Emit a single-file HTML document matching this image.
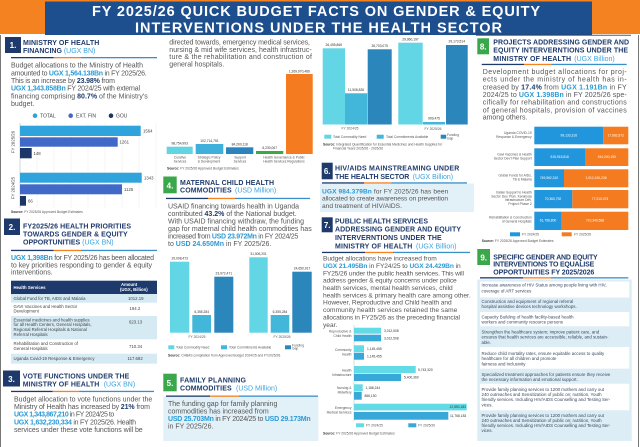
<!DOCTYPE html>
<html><head><meta charset="utf-8"><style>
html,body{margin:0;padding:0;background:#fff;width:640px;height:447px;overflow:hidden}
svg{display:block}
text{font-family:"Liberation Sans",sans-serif}
.h{font-size:7px;font-weight:bold;fill:#1e3a6c}
.u{font-weight:normal;fill:#3ba3dc}
.t{font-size:7px;fill:#555}
.t7{font-size:6.6px;fill:#555}
.k{font-weight:bold;fill:#2b9ad6}
.n{font-weight:bold;fill:#1e3a6c}
.s{font-size:3.3px;fill:#555}
.sb{font-weight:bold;fill:#333}
.num{font-size:8px;font-weight:bold;fill:#fff}
.tb{font-size:4.3px;fill:#444}
.tw{font-size:4.3px;fill:#fff;font-weight:bold}
.l{font-size:3.3px;fill:#333}
.lw{font-size:3.3px;fill:#fff}
.lg{font-size:5px;fill:#444}
.li{font-size:4.4px;fill:#3a4a60}
.ti{font-size:14.5px;font-weight:bold;fill:#fff}
</style></head><body>
<svg width="640" height="447" viewBox="0 0 640 447" xmlns="http://www.w3.org/2000/svg">
<defs>
<linearGradient id="ul" x1="0" x2="1" y1="0" y2="0">
<stop offset="0" stop-color="#1e3a6c"/><stop offset="0.29" stop-color="#1e3a6c"/>
<stop offset="0.29" stop-color="#f58220"/><stop offset="0.48" stop-color="#f58220"/>
<stop offset="0.48" stop-color="#3a8fc9"/><stop offset="1" stop-color="#3a8fc9"/>
</linearGradient>
</defs>
<rect width="640" height="447" fill="#fff"/>

<!-- HEADER -->
<rect x="0" y="0" width="640" height="1.5" fill="#f58220"/>
<rect x="0" y="0" width="45" height="34" fill="#f58220"/>
<rect x="45" y="1.5" width="547" height="33.5" fill="#1d4f8f"/>
<rect x="592" y="0" width="48" height="34" fill="#f58220"/>
<text class="ti" x="92" y="16" textLength="448">FY 2025/26 QUICK BUDGET FACTS ON GENDER &amp; EQUITY</text>
<text class="ti" x="135" y="32.3" textLength="367">INTERVENTIONS UNDER THE HEALTH SECTOR</text>

<rect x="0" y="35" width="1" height="412" fill="#777"/>
<rect x="638" y="35" width="1" height="412" fill="#777"/>
<rect x="476" y="34.8" width="155" height="0.8" fill="#333"/>

<!-- SECTION 1 -->
<rect x="5" y="37" width="16" height="16" fill="#1e3a6c"/>
<text class="num" x="13" y="48" text-anchor="middle">1.</text>
<text class="h" x="23" y="45" textLength="76.3">MINISTRY OF HEALTH</text>
<text class="h" x="23" y="53">FINANCING <tspan class="u">(UGX BN)</tspan></text>
<rect x="11" y="57" width="146" height="1.3" fill="url(#ul)"/>
<text class="t" x="11" y="67.7" textLength="132">Budget allocations to the Ministry of Health</text>
<text class="t" x="11" y="75.3" textLength="135.7">amounted to <tspan class="k">UGX 1,564.138Bn</tspan> in FY 2025/26.</text>
<text class="t" x="11" y="83" textLength="104">This is an increase by <tspan class="n">23.98%</tspan> from</text>
<text class="t" x="11" y="90.7" textLength="129">
<tspan class="k">UGX 1,343.858Bn</tspan> FY 2024/25 with external</text>
<text class="t" x="11" y="98.5" textLength="136.7">financing comprising <tspan class="n">80.7%</tspan> of the Ministry's</text>
<text class="t" x="11" y="106">budget.</text>
<circle cx="35" cy="115.7" r="2.3" fill="#2ea3dc"/><text class="lg" x="40" y="117.6">TOTAL</text>
<circle cx="70.7" cy="115.7" r="2.3" fill="#4169c8"/><text class="lg" x="76" y="117.6">EXT. FIN</text>
<circle cx="111" cy="115.7" r="2.3" fill="#1a3768"/><text class="lg" x="116" y="117.6">GOU</text>
<g stroke="#ececec" stroke-width="0.5">
<line x1="37" y1="123" x2="37" y2="208"/><line x1="54" y1="123" x2="54" y2="208"/><line x1="71" y1="123" x2="71" y2="208"/><line x1="88" y1="123" x2="88" y2="208"/><line x1="105" y1="123" x2="105" y2="208"/><line x1="122" y1="123" x2="122" y2="208"/><line x1="139" y1="123" x2="139" y2="208"/><line x1="156" y1="123" x2="156" y2="208"/>
</g>
<line x1="20" y1="123" x2="20" y2="208" stroke="#bbb" stroke-width="0.6"/>
<rect x="20" y="125.7" width="120.7" height="10.3" fill="#2ea3dc"/><text class="tb" x="143" y="132.5">1564</text>
<rect x="20" y="137.3" width="97.7" height="9.4" fill="#4169c8"/><text class="tb" x="119.5" y="143.5">1261</text>
<rect x="20" y="148" width="11.7" height="10.3" fill="#1a3768"/><text class="tb" x="33.5" y="155">148</text>
<rect x="20" y="172.7" width="121.7" height="10" fill="#2ea3dc"/><text class="tb" x="144" y="179.5">1343</text>
<rect x="20" y="184.3" width="102" height="10" fill="#4169c8"/><text class="tb" x="124" y="191">1125</text>
<rect x="20" y="196" width="6" height="9.7" fill="#1a3768"/><text class="tb" x="28" y="202.5">66</text>
<text class="tb" transform="translate(14.5,142) rotate(-90)" text-anchor="middle">FY 2025/26</text>
<text class="tb" transform="translate(14.5,188) rotate(-90)" text-anchor="middle">FY 2024/25</text>
<text class="s" x="11" y="213"><tspan class="sb">Source:</tspan> FY 2025/26 Approved Budget Estimates</text>

<!-- SECTION 2 -->
<rect x="4" y="218.5" width="16" height="16.5" fill="#1e3a6c"/>
<text class="num" x="12" y="230" text-anchor="middle">2.</text>
<text class="h" x="23" y="228.3" textLength="108">FY2025/26 HEALTH PRIORITIES</text>
<text class="h" x="23" y="236.7" textLength="104.7">TOWARDS GENDER &amp; EQUITY</text>
<text class="h" x="23" y="244.3">OPPORTUNITIES <tspan class="u">(UGX BN)</tspan></text>
<rect x="11" y="249.8" width="146" height="1.3" fill="url(#ul)"/>
<text class="t" x="11" y="260" textLength="143"><tspan class="k">UGX 1,398Bn</tspan> for FY 2025/26 has been allocated</text>
<text class="t" x="11" y="267.5" textLength="141">to key priorities responding to gender &amp; equity</text>
<text class="t" x="11" y="274.7">interventions.</text>
<rect x="11" y="280.7" width="146" height="13.3" fill="#1e3a6c"/>
<text class="tw" x="13.5" y="289">Health Services</text>
<text class="tw" x="121" y="285.8">Amount</text>
<text class="tw" x="120" y="290.8">(UGX, Billion)</text>
<rect x="11" y="294" width="146" height="8.7" fill="#d6eaf4"/>
<rect x="11" y="316" width="146" height="23.3" fill="#d6eaf4"/>
<rect x="11" y="353.7" width="146" height="10" fill="#d6eaf4"/>
<text class="tb" x="13.5" y="299.8">Global Fund for TB, AIDS and Malaria</text><text class="tb" x="128" y="299.8">1012.19</text>
<text class="tb" x="13.5" y="307.9">GAVI Vaccines and Health Sector</text><text class="tb" x="13.5" y="312.6">Development</text><text class="tb" x="129.5" y="310">194.2</text>
<text class="tb" x="13.5" y="321.3">Essential medicines and health supplies</text>
<text class="tb" x="13.5" y="326.2">for all Health Centers, General Hospitals,</text>
<text class="tb" x="13.5" y="331.1">Regional Referral Hospitals &amp; National</text>
<text class="tb" x="13.5" y="336">Referral Hospitals</text><text class="tb" x="129" y="323.5">623.13</text>
<text class="tb" x="13.5" y="344.9">Rehabilitation and Construction of</text><text class="tb" x="13.5" y="349.9">General Hospitals</text><text class="tb" x="129" y="348">710.34</text>
<text class="tb" x="13.5" y="360.2">Uganda Covid-19 Response &amp; Emergency</text><text class="tb" x="127.5" y="360.2">117.682</text>

<!-- SECTION 3 -->
<rect x="3" y="370.5" width="17" height="16" fill="#1e3a6c"/>
<text class="num" x="11.5" y="382" text-anchor="middle">3.</text>
<text class="h" x="22.7" y="378.3" textLength="106.6">VOTE FUNCTIONS UNDER THE</text>
<text class="h" x="22.7" y="386.5"><tspan textLength="76.6">MINISTRY OF HEALTH</tspan> <tspan class="u" x="103.7">(UGX BN)</tspan></text>
<rect x="11" y="390.8" width="143" height="1.3" fill="url(#ul)"/>
<text class="t" x="14" y="401.5" textLength="138.3">Budget allocation to vote functions under the</text>
<text class="t" x="14" y="409" textLength="136">Ministry of Health has increased by <tspan class="n">21%</tspan> from</text>
<text class="t" x="14" y="416.7" textLength="100.3"><tspan class="k">UGX 1,343,867,210</tspan> in FY 2024/25 to</text>
<text class="t" x="14" y="424.3" textLength="122"><tspan class="k">UGX 1,632,230,334</tspan> in FY 2025/26. Health</text>
<text class="t" x="14" y="432" textLength="128.7">services under these vote functions will be</text>

<!-- MIDDLE TOP TEXT -->
<text class="t" x="169.3" y="44.5" textLength="140.7">directed towards, emergency medical services,</text>
<text class="t" x="169.3" y="51.8" textLength="142.4">nursing &amp; mid wife services, health infrastruc-</text>
<text class="t" x="169.3" y="59" textLength="142.7">ture &amp; the rehabilitation and construction of</text>
<text class="t" x="169.3" y="66.3">general hospitals.</text>

<!-- VOTE FUNCTIONS CHART -->
<rect x="166.7" y="146.7" width="26" height="7.3" fill="#62d5e3"/><text class="l" x="179.7" y="144.5" text-anchor="middle">98,754,993</text>
<rect x="195.7" y="144" width="27.6" height="10" fill="#3fb0dc"/><text class="l" x="209.5" y="142" text-anchor="middle">102,714,751</text>
<rect x="226" y="147.3" width="27.3" height="6.7" fill="#2b84bd"/><text class="l" x="239.7" y="145.3" text-anchor="middle">84,260,118</text>
<rect x="256" y="151" width="27.3" height="3" fill="#3aa946"/><text class="l" x="269.7" y="149" text-anchor="middle">6,230,067</text>
<rect x="286" y="74" width="26.7" height="80" fill="#f47b20"/><text class="l" x="299.3" y="72.3" text-anchor="middle">1,269,970,486</text>
<text class="s" x="180" y="158.5" text-anchor="middle">Curative</text><text class="s" x="180" y="162.5" text-anchor="middle">Services</text>
<text class="s" x="209" y="158.5" text-anchor="middle">Strategic Policy</text><text class="s" x="209" y="162.5" text-anchor="middle">&amp; Development</text>
<text class="s" x="240" y="158.5" text-anchor="middle">Support</text><text class="s" x="240" y="162.5" text-anchor="middle">Services</text>
<text class="s" x="284" y="158.5" text-anchor="middle">Health Governance &amp; Public</text><text class="s" x="284" y="162.5" text-anchor="middle">Health Services Regulations</text>
<text class="s" x="167" y="169.5"><tspan class="sb">Source:</tspan> FY 2025/26 Approved Budget Estimates</text>

<!-- SECTION 4 -->
<rect x="163.3" y="176.5" width="13.4" height="16.8" fill="#3aa84a"/>
<text class="num" x="170" y="188.5" text-anchor="middle">4.</text>
<text class="h" x="180" y="185" textLength="94">MATERNAL CHILD HEALTH</text>
<text class="h" x="180" y="192.7"><tspan textLength="51.7">COMMODITIES</tspan> <tspan class="u" x="235">(USD Million)</tspan></text>
<rect x="166" y="197.8" width="144" height="1.3" fill="url(#ul)"/>
<text class="t" x="168" y="208.5" textLength="131">USAID financing towards health in Uganda</text>
<text class="t" x="168" y="216" textLength="128.7">contributed <tspan class="n">43.2%</tspan> of the National budget.</text>
<text class="t" x="168" y="223.5" textLength="136">With USAID financing withdraw, the funding</text>
<text class="t" x="168" y="231" textLength="143.7">gap for maternal child health commodities has</text>
<text class="t" x="168" y="238.5" textLength="130.3">increased from <tspan class="k">USD 23.972Mn</tspan> in FY 2024/25</text>
<text class="t" x="168" y="246">to <tspan class="k">USD 24.650Mn</tspan> in FY 2025/26.</text>
<rect x="170" y="261.7" width="19.3" height="71" fill="#62d6e4"/><text class="l" x="179.7" y="259.5" text-anchor="middle">29,008,473</text>
<rect x="192.3" y="315" width="18.7" height="17.7" fill="#42b7d9"/><text class="l" x="201.7" y="312.8" text-anchor="middle">6,355,284</text>
<rect x="214.3" y="276.7" width="19" height="56" fill="#2b86bc"/><text class="l" x="223.8" y="274.5" text-anchor="middle">23,972,471</text>
<rect x="249.3" y="257.3" width="18.4" height="75.4" fill="#62d6e4"/><text class="l" x="258.5" y="255.1" text-anchor="middle">31,006,201</text>
<rect x="270.7" y="315" width="18.6" height="17.7" fill="#42b7d9"/><text class="l" x="280" y="312.8" text-anchor="middle">6,355,284</text>
<rect x="292.3" y="271.7" width="19.4" height="61" fill="#2b86bc"/><text class="l" x="302" y="269.5" text-anchor="middle">24,650,917</text>
<text class="s" x="197" y="337.8" text-anchor="middle">FY 2024/25</text>
<text class="s" x="282" y="337.8" text-anchor="middle">FY 2025/26</text>
<rect x="168.3" y="345.3" width="6" height="4" fill="#62d6e4"/><text class="s" x="176" y="348.5">Total Commodity Need</text>
<rect x="221" y="345.3" width="6" height="4" fill="#42b7d9"/><text class="s" x="229" y="348.5">Total Commitments Available</text>
<rect x="285" y="345.3" width="6" height="4" fill="#2b86bc"/><text class="s" x="292" y="346.3">Funding</text><text class="s" x="292" y="349.7">Gap</text>
<text class="s" x="168" y="356.5"><tspan class="sb">Source:</tspan> CHBAS compilation from Approved Budget 2024/25 and FY2025/26.</text>

<!-- SECTION 5 -->
<rect x="163.3" y="373.7" width="13.4" height="17.6" fill="#3aa84a"/>
<text class="num" x="170" y="386" text-anchor="middle">5.</text>
<text class="h" x="180" y="382.7" textLength="66">FAMILY PLANNING</text>
<text class="h" x="180" y="390.3"><tspan textLength="51.7">COMMODITIES</tspan> <tspan class="u" x="236">(USD Million)</tspan></text>
<rect x="163.3" y="396.5" width="155" height="44.5" fill="#e2f0f7"/>
<rect x="166" y="395.5" width="152" height="1.3" fill="url(#ul)"/>
<text class="t" x="168" y="406">The funding gap for family planning</text>
<text class="t" x="168" y="413.5">commodities has increased from</text>
<text class="t" x="168" y="421" textLength="142.7"><tspan class="k">USD 25.703Mn</tspan> in FY 2024/25 to <tspan class="k">USD 29.173Mn</tspan></text>
<text class="t" x="168" y="428.5">in FY 2025/26.</text>

<!-- FP CHART -->
<rect x="322.7" y="48.3" width="22.3" height="76.2" fill="#62d6e4"/><text class="l" x="333.8" y="46" text-anchor="middle">26,455,866</text>
<rect x="345" y="93.3" width="22.3" height="31.2" fill="#42b7d9"/><text class="l" x="356" y="91" text-anchor="middle">11,508,826</text>
<rect x="367.7" y="49.3" width="24" height="75.2" fill="#2b86bc"/><text class="l" x="379.7" y="47" text-anchor="middle">26,703,075</text>
<rect x="398.3" y="42.7" width="24.4" height="81.8" fill="#62d6e4"/><text class="l" x="410.5" y="40.5" text-anchor="middle">29,960,197</text>
<rect x="423" y="122" width="22" height="2.5" fill="#42b7d9"/><text class="l" x="434" y="119.5" text-anchor="middle">999,475</text>
<rect x="446" y="45" width="21.7" height="79.5" fill="#2b86bc"/><text class="l" x="456.8" y="42.5" text-anchor="middle">29,173,514</text>
<text class="s" x="350" y="129.5" text-anchor="middle">FY 2024/25</text>
<text class="s" x="433" y="129.8" text-anchor="middle">FY 2025/26</text>
<rect x="324.3" y="134.7" width="7" height="4" fill="#62d6e4"/><text class="s" x="333" y="138">Total Commodity Need</text>
<rect x="376.7" y="134.7" width="7" height="4" fill="#42b7d9"/><text class="s" x="386" y="138">Total Commitments Available</text>
<rect x="440.7" y="134.7" width="5.5" height="4" fill="#2b86bc"/><text class="s" x="447" y="135.8">Funding</text><text class="s" x="447" y="139.3">Gap</text>
<text class="s" x="323" y="145.5"><tspan class="sb">Source:</tspan> Integrated Quantification for Essential Medicines and Health Supplies for</text>
<text class="s" x="333" y="149.5">Financial Years 2025/26 - 2026/26</text>

<!-- SECTION 6 -->
<rect x="321.7" y="162.7" width="11" height="16.6" fill="#1e3a6c"/>
<text class="num" x="327.2" y="174" text-anchor="middle">6.</text>
<text class="h" x="335" y="170.7" textLength="124.3">HIV/AIDS MAINSTREAMING UNDER</text>
<text class="h" x="335" y="179"><tspan textLength="74.3">THE HEALTH SECTOR</tspan> <tspan class="u" x="412.7">(UGX Billion)</tspan></text>
<rect x="320" y="183.5" width="154" height="28.5" fill="#e2f0f7"/>
<rect x="322" y="182.3" width="145" height="1.3" fill="url(#ul)"/>
<text class="t7" x="322" y="193.3" textLength="126.3"><tspan class="k">UGX 984.379Bn</tspan> for FY 2025/26 has been</text>
<text class="t7" x="322" y="200.7" textLength="126">allocated to create awareness on prevention</text>
<text class="t7" x="322" y="208">and treatment of HIV/AIDS.</text>

<!-- SECTION 7 -->
<rect x="321.7" y="217.3" width="11" height="15" fill="#1e3a6c"/>
<text class="num" x="327.2" y="228" text-anchor="middle">7.</text>
<text class="h" x="335" y="223.3" textLength="93">PUBLIC HEALTH SERVICES</text>
<text class="h" x="335" y="231.7" textLength="126">ADDRESSING GENDER AND EQUITY</text>
<text class="h" x="335" y="240" textLength="106.7">INTERVERNTIONS UNDER THE</text>
<text class="h" x="335" y="248.3"><tspan textLength="77.3">MINISTRY OF HEALTH</tspan> <tspan class="u" x="416">(UGX Billion)</tspan></text>
<rect x="322" y="251.8" width="148" height="1.3" fill="url(#ul)"/>
<text class="t7" x="323" y="260.7" textLength="113.7">Budget allocations have increased from</text>
<text class="t7" x="323" y="268" textLength="137.7"><tspan class="k">UGX 21.495Bn</tspan> in FY24/25 to <tspan class="k">UGX 24.429Bn</tspan> in</text>
<text class="t7" x="323" y="275.3" textLength="141">FY25/26 under the public health services. This will</text>
<text class="t7" x="323" y="282.7" textLength="133.7">address gender &amp; equity concerns under police</text>
<text class="t7" x="323" y="290" textLength="129.7">health services, mental health services, child</text>
<text class="t7" x="323" y="297.3" textLength="147.7">health services &amp; primary health care among other.</text>
<text class="t7" x="323" y="304.6" textLength="128.7">However, Reproductive and Child health and</text>
<text class="t7" x="323" y="312" textLength="134.3">community health services retained the same</text>
<text class="t7" x="323" y="319.4" textLength="137">allocations in FY25/26 as the preceding financial</text>
<text class="t7" x="323" y="326.8">year.</text>

<!-- SEC 7 CHART -->
<line x1="354" y1="325" x2="354" y2="421" stroke="#bbb" stroke-width="0.5"/>
<rect x="354" y="327.7" width="27" height="6" fill="#62dbe7"/><text class="l" x="384" y="332">3,012,508</text>
<rect x="354" y="334.7" width="27" height="6.6" fill="#37a8d7"/><text class="l" x="384" y="339.3">3,012,508</text>
<text class="s" x="351.5" y="332.5" text-anchor="end">Reproductive &amp;</text><text class="s" x="351.5" y="336.8" text-anchor="end">Child Health</text>
<rect x="354" y="345.3" width="10" height="6.7" fill="#62dbe7"/><text class="l" x="367" y="349.8">1,145,455</text>
<rect x="354" y="352.7" width="10" height="7" fill="#37a8d7"/><text class="l" x="367" y="357.4">1,145,455</text>
<text class="s" x="351.5" y="351" text-anchor="end">Community</text><text class="s" x="351.5" y="355.3" text-anchor="end">Health</text>
<rect x="354" y="366" width="61.7" height="7" fill="#62dbe7"/><text class="l" x="418" y="370.8">5,743,320</text>
<rect x="354" y="373.7" width="47" height="7.3" fill="#37a8d7"/><text class="l" x="404" y="378.6">5,400,360</text>
<text class="s" x="351.5" y="371.5" text-anchor="end">Health</text><text class="s" x="351.5" y="375.8" text-anchor="end">Infrastructure</text>
<rect x="354" y="384.3" width="8.7" height="6.7" fill="#62dbe7"/><text class="l" x="365.5" y="388.8">1,188,244</text>
<rect x="354" y="391.7" width="7.7" height="8" fill="#37a8d7"/><text class="l" x="364.5" y="396.8">866,150</text>
<text class="s" x="351.5" y="389" text-anchor="end">Nursing &amp;</text><text class="s" x="351.5" y="393.3" text-anchor="end">Midwifery</text>
<rect x="354" y="403.7" width="112.7" height="6.7" fill="#62dbe7"/><text class="l" x="466" y="408.2" text-anchor="end">12,850,183</text>
<rect x="354" y="412" width="94.3" height="7.7" fill="#37a8d7"/><text class="l" x="450" y="417">11,768,183</text>
<text class="s" x="351.5" y="409" text-anchor="end">Emergency</text><text class="s" x="351.5" y="413.3" text-anchor="end">Medical Services</text>
<rect x="356" y="423.3" width="8" height="4" fill="#62dbe7"/><text class="s" x="366" y="426.5">FY 2024/25</text>
<rect x="408.3" y="423.3" width="8" height="4" fill="#37a8d7"/><text class="s" x="418" y="426.5">FY 2025/26</text>
<text class="s" x="323" y="434.5"><tspan class="sb">Source:</tspan> FY 2025/26 Approved Budget Estimates</text>

<!-- SECTION 8 -->
<rect x="477.3" y="38.3" width="11.7" height="16" fill="#3aa84a"/>
<text class="num" x="483.2" y="49.5" text-anchor="middle">8.</text>
<text class="h" x="493.3" y="44.3" textLength="135.7">PROJECTS ADDRESSING GENDER AND</text>
<text class="h" x="493.3" y="52.7" textLength="134.7">EQUITY INTERVERNTIONS UNDER THE</text>
<text class="h" x="493.3" y="61"><tspan textLength="77.7">MINISTRY OF HEALTH</tspan> <tspan class="u" x="574.3">(UGX Billion)</tspan></text>
<rect x="481.7" y="63.8" width="145" height="1.3" fill="url(#ul)"/>
<text class="t" x="482.7" y="74" textLength="144">Development budget allocations for proj-</text>
<text class="t" x="482.7" y="81.7" textLength="144">ects under the ministry of health has in-</text>
<text class="t" x="482.7" y="89.3" textLength="144">creased by <tspan class="n">17.4%</tspan> from <tspan class="k">UGX 1.191Bn</tspan> in FY</text>
<text class="t" x="482.7" y="97" textLength="144">2024/25 to <tspan class="k">UGX 1.398Bn</tspan> in FY 2025/26 spe-</text>
<text class="t" x="482.7" y="104.7" textLength="144">cifically for rehabilitation and constructions</text>
<text class="t" x="482.7" y="112.3" textLength="144">of general hospitals, provision of vaccines</text>
<text class="t" x="482.7" y="119.3">among others.</text>

<!-- SEC 8 CHART -->
<rect x="534.3" y="126.7" width="69" height="17.6" fill="#2196dd"/><rect x="603.3" y="126.7" width="25" height="17.6" fill="#f47b20"/>
<text class="lw" x="568.8" y="136.5" text-anchor="middle">99,133,316</text><text class="lw" x="615.8" y="136.5" text-anchor="middle">17,682,872</text>
<text class="s" x="531.7" y="134" text-anchor="end">Uganda COVID-19</text><text class="s" x="531.7" y="138" text-anchor="end">Response &amp; Emergency</text>
<rect x="534.3" y="148.3" width="50.7" height="17.7" fill="#2196dd"/><rect x="585" y="148.3" width="43.3" height="17.7" fill="#f47b20"/>
<text class="lw" x="559.7" y="158" text-anchor="middle">515,915,816</text><text class="lw" x="606.7" y="158" text-anchor="middle">194,200,190</text>
<text class="s" x="531.7" y="155.5" text-anchor="end">Gavi Vaccines &amp; Health</text><text class="s" x="531.7" y="159.5" text-anchor="end">Sector Dev't Plan Support</text>
<rect x="534.3" y="169.3" width="29.7" height="18" fill="#2196dd"/><rect x="564" y="169.3" width="64.3" height="18" fill="#f47b20"/>
<text class="lw" x="549" y="179" text-anchor="middle">749,562,310</text><text class="lw" x="596" y="179" text-anchor="middle">1,012,190,236</text>
<text class="s" x="531.7" y="176.5" text-anchor="end">Global Funds for AIDs,</text><text class="s" x="531.7" y="180.5" text-anchor="end">TB &amp; Malaria</text>
<rect x="534.3" y="190" width="38" height="18.3" fill="#2196dd"/><rect x="572.3" y="190" width="56" height="18.3" fill="#f47b20"/>
<text class="lw" x="553" y="200" text-anchor="middle">70,360,792</text><text class="lw" x="600" y="200" text-anchor="middle">77,010,073</text>
<text class="s" x="531.7" y="193.5" text-anchor="end">Italian Support to Health</text><text class="s" x="531.7" y="197.3" text-anchor="end">Sector Dev. Plan. Karamoja</text><text class="s" x="531.7" y="201.1" text-anchor="end">Infrastructure Dev.</text><text class="s" x="531.7" y="204.9" text-anchor="end">Project Phase 2</text>
<rect x="534.3" y="211.7" width="27.4" height="18.3" fill="#2196dd"/><rect x="561.7" y="211.7" width="66.6" height="18.3" fill="#f47b20"/>
<text class="lw" x="548" y="221.5" text-anchor="middle">61,758,800</text><text class="lw" x="595" y="221.5" text-anchor="middle">710,340,588</text>
<text class="s" x="531.7" y="218.5" text-anchor="end">Rehabilitation &amp; Construction</text><text class="s" x="531.7" y="222.5" text-anchor="end">of General Hospitals</text>
<rect x="510" y="232.3" width="10" height="4" fill="#2196dd"/><text class="s" x="522" y="235.5">FY 2024/25</text>
<rect x="561.7" y="232.3" width="10" height="4" fill="#f47b20"/><text class="s" x="574" y="235.5">FY 2025/26</text>
<text class="s" x="481.7" y="242"><tspan class="sb">Source:</tspan> FY 2025/26 Approved Budget Estimates</text>

<!-- SECTION 9 -->
<rect x="477.3" y="249" width="12.7" height="16" fill="#3aa84a"/>
<text class="num" x="483.7" y="260.5" text-anchor="middle">9.</text>
<text class="h" x="493.3" y="259.3" textLength="104.4">SPECIFIC GENDER AND EQUITY</text>
<text class="h" x="493.3" y="266.7" textLength="101">INTERVENTIONS TO EQUALISE</text>
<text class="h" x="493.3" y="274.3" textLength="101">OPPORTUNITIES FY 2025/2026</text>
<rect x="480" y="277.2" width="148.3" height="1.3" fill="url(#ul)"/>
<rect x="477.3" y="279.5" width="154.4" height="161.5" fill="#dcedf5"/>
<rect x="480" y="281.5" width="149.3" height="16" fill="#fff"/>
<rect x="480" y="312" width="149.3" height="14.3" fill="#fff"/>
<rect x="480" y="347" width="149.3" height="21.7" fill="#fff"/>
<rect x="480" y="383.7" width="149.3" height="26.6" fill="#fff"/>
<text class="li" x="481.5" y="286.5">Increase awareness of HIV Status among people living with HIV,</text>
<text class="li" x="481.5" y="292.5">coverage of ART services</text>
<text class="li" x="481.5" y="302.8">Construction and equipment of regional referral</text>
<text class="li" x="481.5" y="307.8">hospital assistive devices technology workshops.</text>
<text class="li" x="481.5" y="318.5">Capacity Building of health facility-based health</text>
<text class="li" x="481.5" y="323.5">workers and community resource persons</text>
<text class="li" x="481.5" y="333.5">Strengthen the healthcare system; improve patient care, and</text>
<text class="li" x="481.5" y="338.7">ensures that health services are accessible, reliable, and sustain-</text>
<text class="li" x="481.5" y="343.8">able.</text>
<text class="li" x="481.5" y="355.2">Reduce child mortality rates, ensure equitable access to quality</text>
<text class="li" x="481.5" y="360.2">healthcare for all children and promote</text>
<text class="li" x="481.5" y="365.5">fairness and inclusivity</text>
<text class="li" x="481.5" y="375.8">Specialized treatment approaches for patients ensure they receive</text>
<text class="li" x="481.5" y="380.8">the necessary information and emotional support.</text>
<text class="li" x="481.5" y="391.2">Provide family planning services to 1200 mothers and carry out</text>
<text class="li" x="481.5" y="396.2">240 outreaches and Sensitization of public on; nutrition, Youth</text>
<text class="li" x="481.5" y="401.2">friendly services. Including HIV/AIDS Counselling and Testing Ser-</text>
<text class="li" x="481.5" y="406.5">vices.</text>
<text class="li" x="481.5" y="416.8">Provide family planning services to 1200 mothers and carry out</text>
<text class="li" x="481.5" y="421.8">240 outreaches and Sensitization of public on; nutrition, Youth</text>
<text class="li" x="481.5" y="426.8">friendly services. Including HIV/AIDS Counselling and Testing Ser-</text>
<text class="li" x="481.5" y="432.2">vices.</text>
</svg>
</body></html>
